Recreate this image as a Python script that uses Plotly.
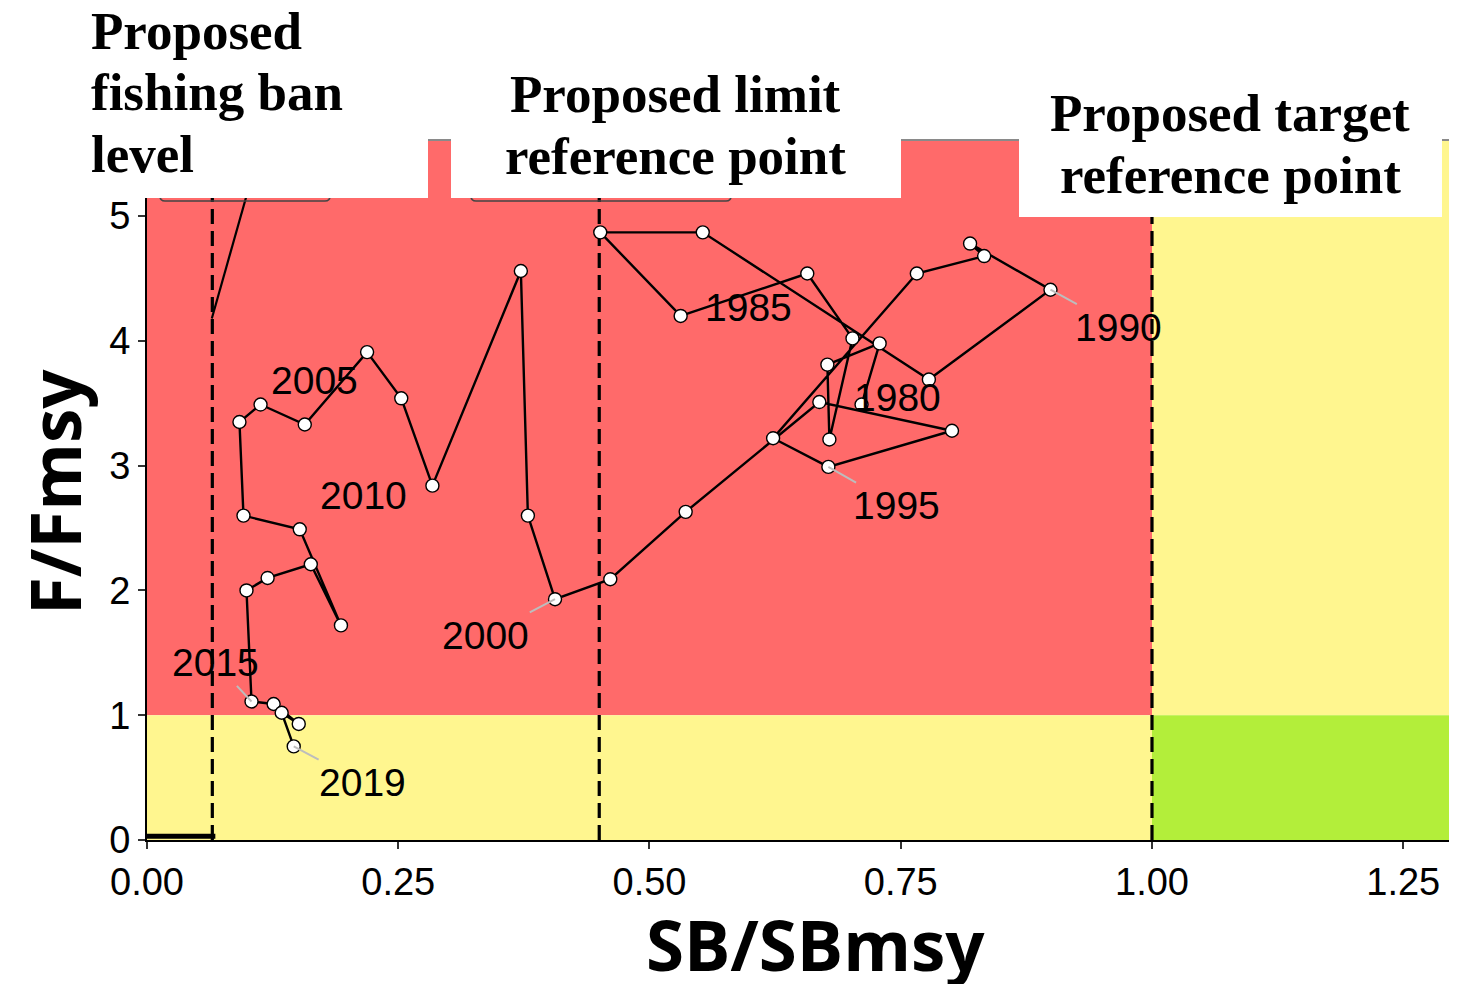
import plotly.graph_objects as go

# stock trajectory 1980-2019 (SB/SBmsy, F/Fmsy)
years = list(range(1980, 2020))
sb_ratio = [0.711, 0.729, 0.677, 0.679, 0.702, 0.657, 0.531, 0.451, 0.553, 0.778,
            0.899, 0.819, 0.833, 0.766, 0.623, 0.678, 0.801, 0.669, 0.536, 0.461,
            0.406, 0.379, 0.372, 0.284, 0.253, 0.219, 0.157, 0.113, 0.092, 0.096,
            0.152, 0.193, 0.163, 0.120, 0.099, 0.104, 0.126, 0.151, 0.134, 0.146]
f_ratio = [3.49, 3.98, 3.81, 3.21, 4.02, 4.54, 4.20, 4.87, 4.87, 3.69,
           4.41, 4.78, 4.68, 4.54, 3.22, 2.99, 3.28, 3.51, 2.63, 2.09,
           1.93, 2.60, 4.56, 2.84, 3.54, 3.91, 3.33, 3.49, 3.35, 2.60,
           2.49, 1.72, 2.21, 2.10, 2.00, 1.11, 1.09, 0.93, 1.02, 0.75]

# labelled years and where the (repelled) labels sit
label_years = [1980, 1985, 1990, 1995, 2000, 2005, 2010, 2015, 2019]
label_x = [0.747, 0.599, 0.967, 0.746, 0.337, 0.167, 0.215, 0.068, 0.214]
label_y = [3.55, 4.27, 4.11, 2.68, 1.64, 3.68, 2.76, 1.42, 0.46]
label_leader = [False, False, True, True, True, False, False, True, True]

# reference points
ban_level = 0.065
limit_rp = 0.45
target_rp = 1.0
fmsy = 1.0
x_max = 1.3035
y_max = 5.61

# harvest control rule pieces
hcr_low_x = [0.0, 0.068]
hcr_low_y = [0.03, 0.03]
hcr_up_x = [0.0645, 0.12]
hcr_up_y = [4.18, 5.76]

x_ticks = [0, 0.25, 0.5, 0.75, 1.0, 1.25]
x_ticktext = ["0.00", "0.25", "0.50", "0.75", "1.00", "1.25"]
y_ticks = [0, 1, 2, 3, 4, 5]

RED = "#FF6A6A"
YELLOW = "#FFF68F"
GREEN = "#B3EE3A"

# page has an 8px body margin: figure sits at (8, 8)
OFF = 8
FIG_W, FIG_H = 1449, 976
L, T, W, H = 147, 140, 1310, 700   # plot area in page pixels


def px_x(p):
    return (p - L) / W


def px_y(p):
    return (T + H - p) / H


fig = go.Figure()

fig.add_trace(go.Scatter(x=hcr_low_x, y=hcr_low_y, mode="lines",
                         line=dict(color="black", width=5), hoverinfo="skip"))
fig.add_trace(go.Scatter(x=hcr_up_x, y=hcr_up_y, mode="lines",
                         line=dict(color="black", width=2.2), hoverinfo="skip"))

fig.add_trace(go.Scatter(
    x=sb_ratio, y=f_ratio, mode="lines+markers",
    line=dict(color="black", width=2.4),
    marker=dict(size=13, color="white", line=dict(color="black", width=1.4)),
    text=[str(y) for y in years], hoverinfo="text",
))

shapes = []
# Kobe zones
zones = [
    (0, target_rp, fmsy, y_max, RED),
    (0, target_rp, 0, fmsy, YELLOW),
    (target_rp, x_max, fmsy, y_max, YELLOW),
    (target_rp, x_max, 0, fmsy, GREEN),
]
for x0, x1, y0, y1, c in zones:
    shapes.append(dict(type="rect", xref="x", yref="y", x0=x0, x1=x1, y0=y0, y1=y1,
                       fillcolor=c, line=dict(width=0), layer="below"))
for xv in [ban_level, limit_rp, target_rp]:
    shapes.append(dict(type="line", xref="x", yref="y", x0=xv, x1=xv, y0=0, y1=y_max,
                       line=dict(color="black", width=3.2, dash="15px,7px"), layer="below"))

# top border of panel
shapes.append(dict(type="line", xref="paper", yref="paper", x0=0, x1=1, y0=1, y1=1,
                   line=dict(color="#8a8a8a", width=2), layer="above"))


def rounded_box(x0, x1, y_top, y_bot, r=5):
    X0, X1 = px_x(x0), px_x(x1)
    Yt, Yb = px_y(y_top), px_y(y_bot)
    rx, ry = r / W, r / H
    return (f"M {X0},{Yt} L {X0},{Yb + ry} Q {X0},{Yb} {X0 + rx},{Yb} "
            f"L {X1 - rx},{Yb} Q {X1},{Yb} {X1},{Yb + ry} L {X1},{Yt}")


for bx0, bx1 in [(160, 330), (471, 731)]:
    shapes.append(dict(type="path", xref="paper", yref="paper",
                       path=rounded_box(bx0, bx1, 150, 201),
                       line=dict(color="#444444", width=1.5), layer="above"))

# white boxes pasted over the panel top
for bx0, bx1, by in [(-10, 428, 198), (451, 901, 198), (1019, 1442, 217)]:
    shapes.append(dict(type="rect", xref="paper", yref="paper",
                       x0=px_x(bx0), x1=px_x(bx1), y0=px_y(by), y1=px_y(-5),
                       fillcolor="white", line=dict(width=0), layer="above"))

annotations = []
for yr, lx, ly, lead in zip(label_years, label_x, label_y, label_leader):
    i = years.index(yr)
    annotations.append(dict(
        x=sb_ratio[i], y=f_ratio[i], xref="x", yref="y",
        ax=lx, ay=ly, axref="x", ayref="y",
        text=str(yr), showarrow=True, arrowhead=0, arrowwidth=2, standoff=0,
        arrowcolor="#BDBDBD" if lead else "rgba(0,0,0,0)",
        font=dict(family="Liberation Sans, Arial", size=39, color="black"),
        xanchor="center", yanchor="middle",
    ))

serif = dict(family="Liberation Serif, Times New Roman", size=53, color="black", weight="bold")
top_text = [
    ("Proposed", 89, 31, "left"),
    ("fishing ban", 89, 92, "left"),
    ("level", 89, 154, "left"),
    ("Proposed limit", 675, 94, "center"),
    ("reference point", 675, 156, "center"),
    ("Proposed target", 1230, 113, "center"),
    ("reference point", 1230, 175, "center"),
]
for txt, px, py, anc in top_text:
    annotations.append(dict(x=px_x(px), y=px_y(py), xref="paper", yref="paper",
                            text=txt, showarrow=False, xanchor=anc, yanchor="middle",
                            font=serif))

title_font = dict(family="Open Sans", size=69, color="black", weight="bold")
annotations.append(dict(x=px_x(815), y=px_y(944), xref="paper", yref="paper",
                        text="SB/SBmsy", showarrow=False, xanchor="center",
                        yanchor="middle", font=title_font))
annotations.append(dict(x=px_x(54), y=px_y(492), xref="paper", yref="paper",
                        text="F/Fmsy", showarrow=False, xanchor="center",
                        yanchor="middle", textangle=-90, font=title_font))

tick_font = dict(family="Liberation Sans, Arial", size=38, color="black")
fig.update_layout(
    width=FIG_W, height=FIG_H,
    margin=dict(l=L - OFF, r=FIG_W - (L - OFF) - W, t=T - OFF, b=FIG_H - (T - OFF) - H, pad=0),
    paper_bgcolor="white", plot_bgcolor="white",
    showlegend=False,
    shapes=shapes,
    annotations=annotations,
    xaxis=dict(range=[0, x_max], tickvals=x_ticks, ticktext=x_ticktext,
               showgrid=False, zeroline=False, showline=True, linecolor="black",
               linewidth=2, ticks="outside", ticklen=7, tickwidth=1.5, tickcolor="#333333",
               tickfont=tick_font),
    yaxis=dict(range=[0, y_max], tickvals=y_ticks,
               showgrid=False, zeroline=False, showline=True, linecolor="black",
               linewidth=2, ticks="outside", ticklen=7, tickwidth=1.5, tickcolor="#333333",
               tickfont=tick_font),
)

fig.write_html("out.html")
